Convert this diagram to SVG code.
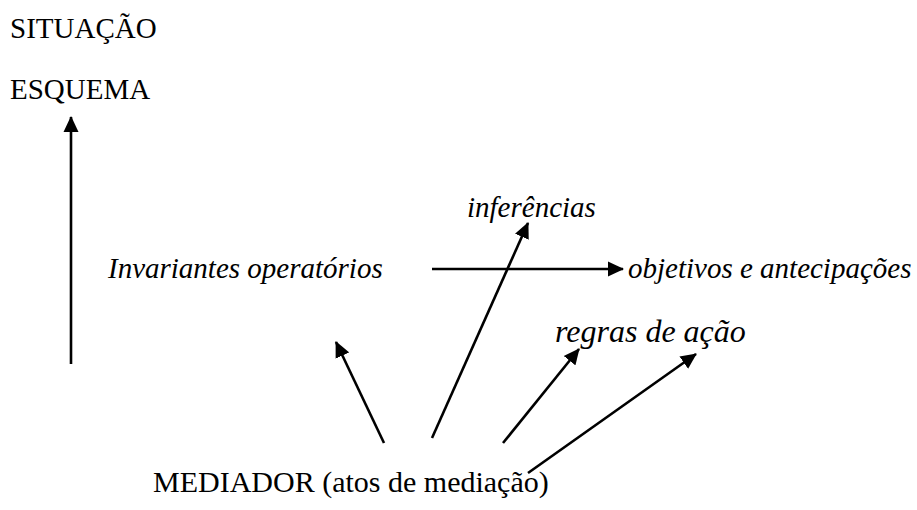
<svg xmlns="http://www.w3.org/2000/svg" width="917" height="510" viewBox="0 0 917 510">
<style>
text{font-family:'Liberation Serif','Times New Roman',serif;fill:#000}
.i{font-style:italic}
.c line{stroke:#000;stroke-width:2.6;marker-end:url(#ah)}
</style>
<defs>
<marker id="ah" markerUnits="userSpaceOnUse" markerWidth="16" markerHeight="16" viewBox="0 0 16 16" refX="15" refY="8" orient="auto">
<path d="M0,0.5 L16,8 L0,15.5 Z" fill="#000"/>
</marker>
</defs>
<rect width="917" height="510" fill="#fff"/>
<g id="situacao"><text x="10" y="38" font-size="29">SITUAÇÃO</text></g>
<g id="esquema"><text x="10" y="99" font-size="29">ESQUEMA</text></g>
<g id="invariantes"><text class="i" x="108" y="278" font-size="29">Invariantes operatórios</text></g>
<g id="inferencias"><text class="i" x="467" y="217" font-size="29">inferências</text></g>
<g id="objetivos"><text class="i" x="628" y="278" font-size="29">objetivos e antecipações</text></g>
<g id="regras"><text class="i" x="555" y="342" font-size="32">regras de ação</text></g>
<g id="mediador"><text x="153" y="492" font-size="30">MEDIADOR (atos de mediação)</text></g>
<g id="connectors" class="c">
<line x1="71" y1="364" x2="71" y2="117"/>
<line x1="432" y1="269" x2="623" y2="269"/>
<line x1="384" y1="443" x2="336" y2="342"/>
<line x1="432" y1="438" x2="528" y2="223"/>
<line x1="503" y1="443" x2="579" y2="349"/>
<line x1="528" y1="473" x2="696" y2="354"/>
</g>
</svg>
